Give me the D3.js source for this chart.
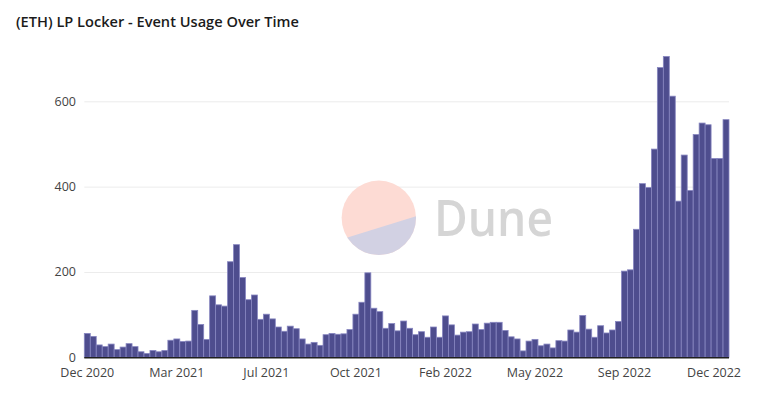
<!DOCTYPE html>
<html>
<head>
<meta charset="utf-8">
<script src="https://cdn.jsdelivr.net/npm/d3@7"></script>
<style>
  body { margin: 0; background: #fff; }
  svg { display: block; font-family: "Open Sans", "Noto Sans", sans-serif; }
</style>
</head>
<body>
<div id="chart"></div>
<script>
// weekly event counts, first week starts Mon 14 Dec 2020
var weeks = d3.utcMonday.range(new Date(Date.UTC(2020, 11, 14)), new Date(Date.UTC(2023, 0, 3)));

var events = [
  56, 49, 29, 25, 31, 18, 24, 32, 25, 13, 9, 16, 13, 16, 40, 43, 37, 38, 110, 77, 42, 144, 123, 120, 224,
  264, 187, 135, 146, 89, 101, 90, 71, 61, 73, 67, 43, 31, 35, 28, 53, 56, 54, 55, 65, 101, 129, 198, 115, 107, 68, 79, 62, 85, 68,
  53, 60, 47, 71, 47, 97, 76, 52, 59, 60, 78, 65, 80, 82, 82, 63, 48, 43, 15, 38, 42, 27, 31, 22, 39, 38, 64, 59, 98, 66,
  47, 74, 57, 64, 84, 202, 205, 300,
  407, 398, 488, 679, 705, 612, 366, 474, 391, 522, 549, 545, 466, 466, 557
];

var yTicks = [0, 200, 400, 600];
var xTickLabels = ["Dec 2020", "Mar 2021", "Jul 2021", "Oct 2021", "Feb 2022", "May 2022", "Sep 2022", "Dec 2022"];
var labelEvery = 15;

var width = 767, height = 395;
var left = 84.3, right = 729, base = 357.3;

var svg = d3.select("#chart").append("svg")
    .attr("width", width)
    .attr("height", height);

svg.append("text")
    .attr("x", 16)
    .attr("y", 27)
    .attr("font-size", 14.6)
    .attr("font-weight", 600)
    .attr("fill", "#1b1b1b")
    .text("(ETH) LP Locker - Event Usage Over Time");

var x = d3.scaleBand()
    .domain(d3.range(events.length))
    .range([left, right])
    .padding(0);

var y = d3.scaleLinear()
    .domain([0, 600])
    .range([base, 101.3]);

// grid
svg.append("g")
  .selectAll("line")
  .data(yTicks.filter(function(d) { return d > 0; }))
  .enter().append("line")
    .attr("x1", left)
    .attr("x2", right)
    .attr("y1", function(d) { return y(d) + 0.5; })
    .attr("y2", function(d) { return y(d) + 0.5; })
    .attr("stroke", "#ececec");

// watermark
var wm = svg.append("g");
var cx = 378.8, cy = 217.8, r = 37.2;
wm.append("circle").attr("cx", cx).attr("cy", cy).attr("r", r).attr("fill", "#fddbd4");
wm.append("clipPath").attr("id", "wmclip")
  .append("circle").attr("cx", cx).attr("cy", cy).attr("r", r);
wm.append("path")
    .attr("clip-path", "url(#wmclip)")
    .attr("d", "M330,243 L430,212 L430,260 L330,260 Z")
    .attr("fill", "#d2d1e3");
wm.append("text")
    .attr("x", 434)
    .attr("y", 236)
    .attr("font-size", 51)
    .attr("font-weight", 600)
    .attr("textLength", 119)
    .attr("lengthAdjust", "spacingAndGlyphs")
    .attr("fill", "#d5d5d5")
    .text("Dune");

// bars
svg.append("g")
  .selectAll("rect")
  .data(events)
  .enter().append("rect")
    .attr("x", function(d, i) { return x(i); })
    .attr("width", x.bandwidth())
    .attr("y", function(d) { return y(d); })
    .attr("height", function(d) { return base - y(d); })
    .attr("fill", "#4e4d8e")
    .attr("stroke", "#8786c0")
    .attr("stroke-width", 0.8);

// baseline
svg.append("line")
    .attr("x1", left)
    .attr("x2", right)
    .attr("y1", base + 0.5)
    .attr("y2", base + 0.5)
    .attr("stroke", "#1f1f1f")
    .attr("stroke-width", 1.5);

// y labels
svg.append("g")
  .selectAll("text")
  .data(yTicks)
  .enter().append("text")
    .attr("x", 76)
    .attr("y", function(d) { return y(d); })
    .attr("dy", "0.35em")
    .attr("text-anchor", "end")
    .attr("font-size", 12.5)
    .attr("fill", "#444")
    .text(function(d) { return d; });

// x labels, one every 15 weeks
svg.append("g")
  .selectAll("text")
  .data(xTickLabels)
  .enter().append("text")
    .attr("x", function(d, i) { return x(i * labelEvery) + x.bandwidth() / 2; })
    .attr("y", 377)
    .attr("text-anchor", "middle")
    .attr("font-size", 12.5)
    .attr("fill", "#444")
    .text(function(d) { return d; });
</script>
</body>
</html>
